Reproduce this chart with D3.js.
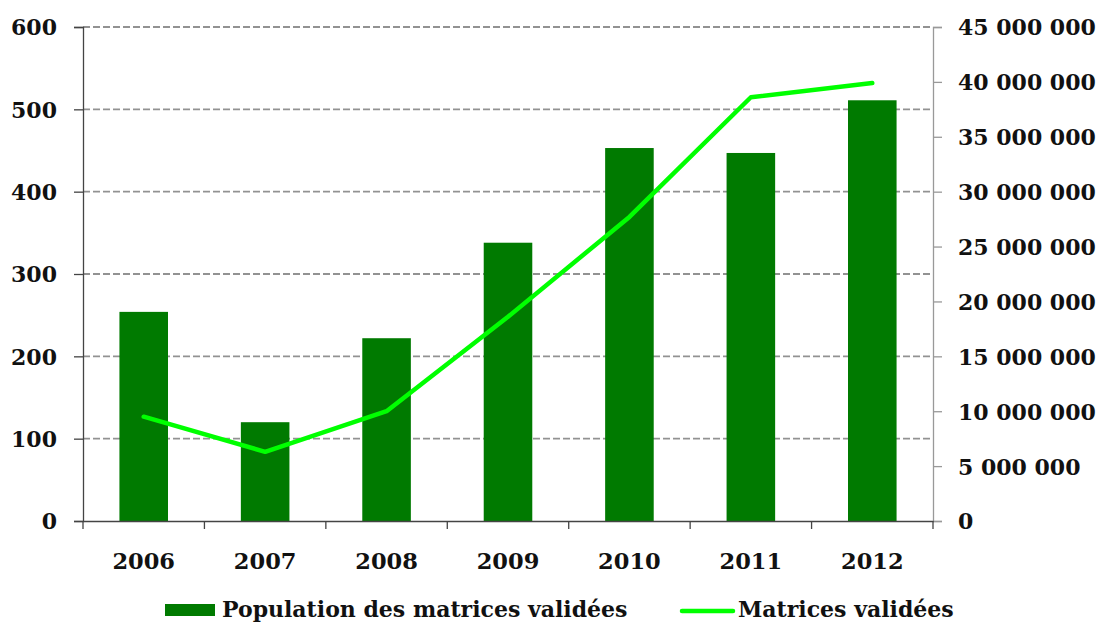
<!DOCTYPE html>
<html>
<head>
<meta charset="utf-8">
<script src="https://cdn.jsdelivr.net/npm/d3@7"></script>
<style>
  body { margin: 0; background: #fff; }
  svg text { font-family: "DejaVu Serif", serif; font-weight: bold; fill: #111; }
</style>
</head>
<body>
<svg id="chart" width="1097" height="624"></svg>
<script>
// Data
const years = ['2006', '2007', '2008', '2009', '2010', '2011', '2012'];
const population = [254, 120, 222, 338, 453, 447, 511];
const matrices = [9500000, 6300000, 10000000, 18600000, 27700000, 38600000, 39900000];
const leftTicks = [0, 100, 200, 300, 400, 500, 600];
const rightTicks = [0, 5e6, 10e6, 15e6, 20e6, 25e6, 30e6, 35e6, 40e6, 45e6];

const svg = d3.select('#chart');
const plot = { left: 83, right: 933, top: 27, bottom: 521 };

const x = d3.scaleBand().domain(years).range([plot.left, plot.right]);
const yL = d3.scaleLinear().domain([0, 600]).range([plot.bottom, plot.top]);
const yR = d3.scaleLinear().domain([0, 45e6]).range([plot.bottom, plot.top]);

// Grid lines
svg.append('g')
    .selectAll('line')
    .data(leftTicks.filter(d => d > 0))
    .enter()
    .append('line')
    .attr('x1', plot.left)
    .attr('x2', plot.right)
    .attr('y1', d => yL(d))
    .attr('y2', d => yL(d))
    .attr('stroke', '#929292')
    .attr('stroke-width', 1.8)
    .attr('stroke-dasharray', '7,3');

// Bars
const barW = x.bandwidth() * 0.4;
svg.append('g')
    .selectAll('rect')
    .data(years)
    .enter()
    .append('rect')
    .attr('x', d => x(d) + (x.bandwidth() - barW) / 2)
    .attr('y', (d, i) => yL(population[i]))
    .attr('width', barW)
    .attr('height', (d, i) => plot.bottom - yL(population[i]))
    .attr('fill', '#007a00');

// Line
const line = d3.line()
    .x((d, i) => x(years[i]) + x.bandwidth() / 2)
    .y(d => yR(d));
svg.append('path')
    .datum(matrices)
    .attr('d', line)
    .attr('fill', 'none')
    .attr('stroke', '#00ff00')
    .attr('stroke-width', 4.5)
    .attr('stroke-linejoin', 'round')
    .attr('stroke-linecap', 'round');

// Left axis
const gL = svg.append('g')
    .attr('transform', `translate(${plot.left},0)`)
    .call(d3.axisLeft(yL).tickValues(leftTicks).tickSize(9).tickPadding(17));
gL.selectAll('line, path').attr('stroke', '#444').attr('stroke-width', 1.3);
gL.selectAll('text').style('font-size', '22px').attr('dy', '0.36em');

// Right axis
const fmt = d => d3.format(',')(d).replace(/,/g, '\u00a0');
const gR = svg.append('g')
    .attr('transform', `translate(${plot.right},0)`)
    .call(d3.axisRight(yR).tickValues(rightTicks).tickFormat(fmt).tickSize(9).tickPadding(16));
gR.selectAll('line, path').attr('stroke', '#999').attr('stroke-width', 1.3);
gR.selectAll('text').style('font-size', '22px').attr('dy', '0.36em');

// Bottom axis
const gB = svg.append('g')
    .attr('transform', `translate(0,${plot.bottom})`)
    .call(d3.axisBottom(x).tickSize(0).tickPadding(32));
gB.select('path').attr('stroke', '#444').attr('stroke-width', 1.3);
gB.selectAll('text').style('font-size', '22.5px');
// category separators
gB.selectAll('.sep')
    .data(years.concat(['end']))
    .enter()
    .append('line')
    .attr('x1', (d, i) => plot.left + i * x.bandwidth())
    .attr('x2', (d, i) => plot.left + i * x.bandwidth())
    .attr('y1', 0)
    .attr('y2', 8)
    .attr('stroke', '#444')
    .attr('stroke-width', 1.3);

// Legend
const legend = svg.append('g');
legend.append('rect')
    .attr('x', 165).attr('y', 604).attr('width', 50).attr('height', 12)
    .attr('fill', '#007a00');
legend.append('text')
    .attr('x', 222).attr('y', 617)
    .style('font-size', '22px')
    .text('Population des matrices validées');
legend.append('line')
    .attr('x1', 682).attr('x2', 733).attr('y1', 611).attr('y2', 611)
    .attr('stroke', '#00ff00').attr('stroke-width', 4.5).attr('stroke-linecap', 'round');
legend.append('text')
    .attr('x', 738).attr('y', 617)
    .style('font-size', '22px')
    .text('Matrices validées');
</script>
</body>
</html>
